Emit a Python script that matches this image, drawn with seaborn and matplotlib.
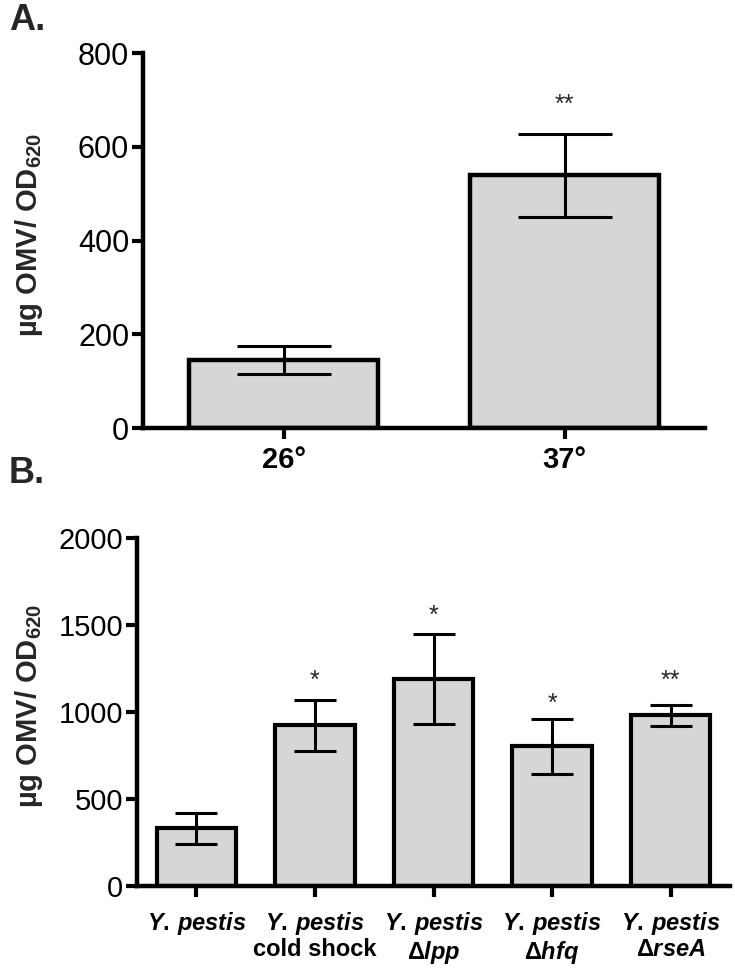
import matplotlib
matplotlib.use("Agg")
import matplotlib.pyplot as plt
import numpy as np
import pandas as pd
import seaborn as sns

sns.set_theme(style="ticks")
plt.rcParams["font.family"] = ["Liberation Sans", "DejaVu Sans"]
plt.rcParams["mathtext.fontset"] = "custom"
plt.rcParams["mathtext.rm"] = "Liberation Sans:bold"
plt.rcParams["mathtext.it"] = "Liberation Sans:bold:italic"
plt.rcParams["mathtext.bf"] = "Liberation Sans:bold"
plt.rcParams["mathtext.default"] = "rm"

# panel A: growth temperature
temp_labels = ["26°", "37°"]
temp_mean = [145, 539]
temp_sem = [29, 89]
temp_stars = ["", "**"]
temp_star_y = [0, 690]

# panel B: strains
strain_labels = [
    r"$\mathit{Y.\,pestis}$",
    r"$\mathit{Y.\,pestis}$" + "\ncold shock",
    r"$\mathit{Y.\,pestis}$" + "\n" + r"$\Delta\mathit{lpp}$",
    r"$\mathit{Y.\,pestis}$" + "\n" + r"$\Delta\mathit{hfq}$",
    r"$\mathit{Y.\,pestis}$" + "\n" + r"$\Delta\mathit{rseA}$",
]
strain_mean = [330, 922, 1190, 801, 979]
strain_sem = [89, 146, 258, 160, 63]
strain_stars = ["", "*", "*", "*", "**"]
strain_star_y = [0, 1180, 1550, 1045, 1180]

BAR_COLOR = "#d6d6d6"
YLABEL = r"µg OMV/ OD$_{620}$"


def draw_panel(ax, labels, means, sems, stars, star_y, ymax, ystep,
               lw, capsize, tick_fs, xtick_fs, star_fs, xpad):
    df = pd.DataFrame({"group": labels, "value": means})
    sns.barplot(data=df, x="group", y="value", color=BAR_COLOR, saturation=1,
                edgecolor="black", linewidth=lw, width=0.67, errorbar=None, ax=ax)
    x = np.arange(len(means))
    ax.errorbar(x, means, yerr=sems, fmt="none", ecolor="black",
                elinewidth=2.2, capsize=capsize, capthick=2.2, zorder=5)
    for xi, s, yi in zip(x, stars, star_y):
        if s:
            ax.text(xi, yi, s, ha="center", va="center", fontsize=star_fs)
    ax.set_xlim(-0.5, len(means) - 0.5)
    ax.set_ylim(0, ymax)
    ax.set_yticks(np.arange(0, ymax + 1, ystep))
    ax.set_xlabel("")
    ax.set_ylabel(YLABEL, fontsize=21, fontweight="bold")
    sns.despine(ax=ax)
    for sp in ["left", "bottom"]:
        ax.spines[sp].set_linewidth(3.2)
        ax.spines[sp].set_color("black")
    ax.tick_params(axis="y", direction="out", length=8, width=3, labelsize=tick_fs,
                   pad=2, colors="black")
    ax.tick_params(axis="x", direction="out", length=8, width=3, labelsize=xtick_fs,
                   pad=xpad, colors="black")
    for t in ax.get_xticklabels():
        t.set_fontweight("bold")
        t.set_linespacing(1.1)
    ax.set_facecolor("white")


fig = plt.figure(figsize=(7.35, 9.69), dpi=100)
ax_a = fig.add_axes([0.1946, 0.5583, 0.7646, 0.387])
ax_b = fig.add_axes([0.1864, 0.0857, 0.8068, 0.3594])

draw_panel(ax_a, temp_labels, temp_mean, temp_sem, temp_stars, temp_star_y,
           800, 200, 3.2, 34, 22, 21, 18, 5)
draw_panel(ax_b, strain_labels, strain_mean, strain_sem, strain_stars, strain_star_y,
           2000, 500, 3.0, 15, 21, 17, 18, 9)

ax_a.yaxis.set_label_coords(-0.175, 0.516)
ax_b.yaxis.set_label_coords(-0.155, 0.517)

fig.text(0.012, 0.997, "A.", fontsize=26, fontweight="bold", va="top", ha="left")
fig.text(0.012, 0.529, "B.", fontsize=26, fontweight="bold", va="top", ha="left")

fig.savefig("out.png", dpi=100, facecolor="white")
